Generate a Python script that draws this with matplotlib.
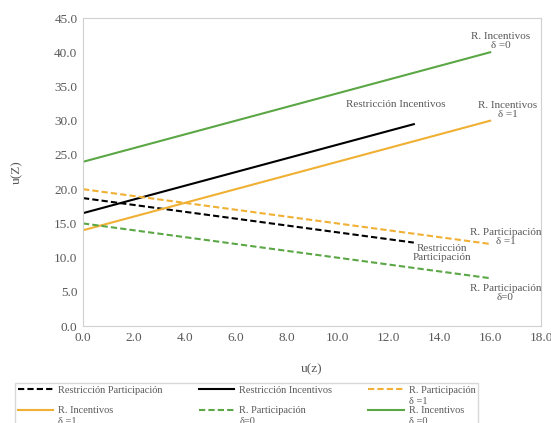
import matplotlib.pyplot as plt

plt.rcParams['font.family'] = ['Liberation Serif', 'DejaVu Serif']

# end points of each straight line
x_full = [0.0, 16.0]
x_short = [0.0, 13.0]
rp = [18.7, 12.2]        # Restriccion Participacion
ri = [16.5, 29.5]        # Restriccion Incentivos
rp_d1 = [20.0, 12.0]     # R. Participacion d=1
ri_d1 = [14.0, 30.0]     # R. Incentivos d=1
rp_d0 = [15.0, 7.0]      # R. Participacion d=0
ri_d0 = [24.0, 40.0]     # R. Incentivos d=0

green = '#5ba745'
orange = '#f0b034'
grey = '#595959'

fig = plt.figure(figsize=(5.51, 4.23), dpi=100)
ax = fig.add_axes([0.1506, 0.229, 0.8314, 0.7284])

dash = (0, (3, 1.5))
h_rp, = ax.plot(x_short, rp, color='black', lw=1.5, ls=dash, label='Restricción Participación')
h_ri, = ax.plot(x_short, ri, color='black', lw=1.5, label='Restricción Incentivos')
h_rpd1, = ax.plot(x_full, rp_d1, color=orange, lw=1.5, ls=dash, label='R. Participación\nδ =1')
h_rid1, = ax.plot(x_full, ri_d1, color=orange, lw=1.5, label='R. Incentivos\nδ =1')
h_rpd0, = ax.plot(x_full, rp_d0, color=green, lw=1.5, ls=dash, label='R. Participación\nδ=0')
h_rid0, = ax.plot(x_full, ri_d0, color=green, lw=1.5, label='R. Incentivos\nδ =0')

ax.set_xlim(0, 18)
ax.set_ylim(0, 45)
ax.set_xticks([i * 2.0 for i in range(10)])
ax.set_yticks([i * 5.0 for i in range(10)])
ax.xaxis.set_major_formatter(plt.FormatStrFormatter('%.1f'))
ax.yaxis.set_major_formatter(plt.FormatStrFormatter('%.1f'))
ax.tick_params(length=0, labelsize=9.5, labelcolor=grey, pad=4)
for s in ax.spines.values():
    s.set_color('#d0d0d0')

ax.set_xlabel('u(z)', fontsize=9.5, color=grey, labelpad=14)
ax.set_ylabel('u(Z)', fontsize=9.5, color=grey, labelpad=22)

notes = [
    (16.4, 41.6, 'R. Incentivos\nδ =0'),
    (12.3, 32.4, 'Restricción Incentivos'),
    (16.7, 31.6, 'R. Incentivos\nδ =1'),
    (16.6, 13.0, 'R. Participación\nδ =1'),
    (14.1, 10.7, 'Restricción\nParticipación'),
    (16.6, 4.9, 'R. Participación\nδ=0'),
]
for x, y, t in notes:
    ax.text(x, y, t, ha='center', va='center', fontsize=8, color=grey, linespacing=1.0)

# legend laid out row by row like the original, every label two lines high
handles = [h_rp, h_rid1, h_ri, h_rpd0, h_rpd1, h_rid0]
labels = [h.get_label() if '\n' in h.get_label() else h.get_label() + '\n ' for h in handles]
leg = fig.legend(handles=handles, labels=labels,
                 ncol=3, loc='upper left', bbox_to_anchor=(15 / 551, 1 - 383 / 423),
                 fontsize=7.5, frameon=True, fancybox=False,
                 edgecolor='#d0d0d0', handlelength=3.4, handletextpad=0.5,
                 columnspacing=3.45, labelspacing=0.05, borderaxespad=0, borderpad=0.25)
leg.get_frame().set_linewidth(1.0)
for t in leg.get_texts():
    t.set_color(grey)
    t.set_linespacing(1.3)
# line sits beside the first line of each label
for col in leg._legend_handle_box.get_children():
    for row in col.get_children():
        row.align = 'top'

fig.savefig('out.png', dpi=100)
